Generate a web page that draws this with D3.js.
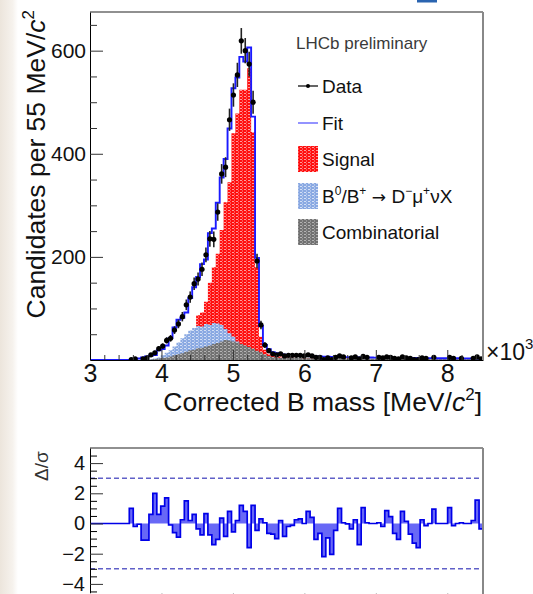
<!DOCTYPE html>
<html>
<head>
<meta charset="utf-8">
<script src="https://cdn.jsdelivr.net/npm/d3@7"></script>
<style>
  body { margin: 0; background: #fff; }
  svg { display: block; font-family: "Liberation Sans", Arial, Helvetica, sans-serif; }
</style>
</head>
<body>
<svg id="chart" width="533" height="594"></svg>
<script>
// binning: 100 bins of 55 MeV from 3000 to 8500 MeV
const binLow = 3000
const binWidth = 55
const nBins = 100

const dataCounts = [
  0, 0, 0, 0, 0, 0, 0, 0, 0, 0,
  1, 2, 0, 2, 4, 10, 14, 22, 27, 38,
  42, 58, 70, 84, 107, 122, 148, 157, 176, 204,
  235, 234, 287, 361, 374, 466, 514, 553, 619, 600,
  574, 500, 192, 68, 29, 18, 12, 10, 12, 8,
  9, 9, 9, 9, 8, 10, 8, 5, 5, 1,
  4, 1, 5, 8, 6, 0, 4, 6, 2, 7,
  5, 0, 0, 5, 4, 6, 5, 3, 2, 6,
  4, 3, 1, 1, 4, 3, 0, 5, 0, 0,
  0, 5, 3, 0, 3, 0, 0, 3, 6, 2
]

const fitValues = [
  0, 0, 0, 0, 0, 0, 0, 0, 0, 0,
  0.3, 2.3, 3, 5, 7, 8.5, 9.5, 19, 21, 28,
  43, 63, 78, 82, 92, 120, 141, 161, 186, 195,
  246, 255, 305, 354, 390, 449, 527, 548, 588, 579,
  606, 472, 198, 66, 29, 21, 15, 13, 11.5, 10.5,
  9.5, 9.2, 8.6, 8.2, 8, 7.6, 7.2, 7, 6.7, 6.5,
  6.2, 6.1, 5.9, 5.7, 5.6, 5.5, 5.3, 5.2, 5.1, 5,
  4.9, 4.8, 4.7, 4.6, 4.5, 4.4, 4.3, 4.2, 4.2, 4.1,
  4, 4, 3.9, 3.8, 3.8, 3.7, 3.6, 3.6, 3.5, 3.5,
  3.4, 3.4, 3.3, 3.3, 3.2, 3.2, 3.1, 3.1, 3, 3
]

const signalValues = [
  0, 0, 0, 0, 0, 0, 0, 0, 0, 0,
  0, 0, 0, 0, 0, 1, 2, 3, 5, 7,
  12, 17, 22, 27, 33, 42, 55, 87, 92, 113,
  150, 180, 206, 252, 306, 345, 440, 478, 524, 524,
  566, 442, 180, 45, 20, 12, 9, 8, 7, 6,
  5, 5, 4, 4, 4, 3, 3, 4, 4, 3,
  3, 3, 3, 2, 2, 3, 2, 2, 2, 2,
  2, 2, 2, 2, 2, 2, 2, 2, 2, 2,
  2, 2, 3, 3, 2, 2, 1.5, 1.5, 1.5, 1.5,
  1.5, 1.5, 1.2, 1.2, 1.2, 1.2, 1, 1, 1, 1
]

const b0Values = [
  0, 0, 0, 0, 0, 0, 0, 0, 0, 0,
  0, 0, 0, 0, 1, 2, 3, 5, 9, 14,
  19, 26, 34, 42, 50, 57, 62, 66, 65, 70,
  68, 72, 71, 68, 60, 52, 45, 36, 29, 20,
  13, 8, 5, 2, 1, 0.5, 0.4, 0.3, 0.2, 0.2,
  0.2, 0.2, 0.2, 0.2, 0.2, 0.2, 0.2, 0.2, 0.2, 0.2,
  0.2, 0.2, 0.2, 0.2, 0.2, 0.2, 0.2, 0.2, 0.2, 0.2,
  0.2, 0.2, 0.2, 0.2, 0.2, 0.2, 0.2, 0.2, 0.2, 0.2,
  0.2, 0.2, 0.2, 0.2, 0.2, 0.2, 0.2, 0.2, 0.2, 0.2,
  0.2, 0.2, 0.2, 0.2, 0.2, 0.2, 0.2, 0.2, 0.2, 0.2
]

const combValues = [
  0, 0, 0, 0, 0, 0, 0, 0, 0, 0,
  0, 0, 0, 0, 0, 1, 2, 3, 4, 5,
  7, 9, 11, 13, 16, 19, 20, 23, 24, 26,
  28, 31, 33, 36, 39, 38, 36, 34, 31, 28,
  25, 22, 18, 15, 11, 8, 6, 5, 4.5, 4.2,
  4, 4, 3.8, 3.8, 3.6, 3.6, 3.5, 3.2, 3.2, 3.3,
  3.2, 3.1, 3.1, 3.2, 3.2, 3, 3, 3, 2.9, 2.9,
  2.8, 2.8, 2.8, 2.7, 2.7, 2.6, 2.6, 2.5, 2.5, 2.5,
  2.4, 2.4, 2.3, 2.3, 2.3, 2.2, 2.2, 2.2, 2.1, 2.1,
  2.1, 2, 2, 2, 2, 1.9, 1.9, 1.9, 1.9, 1.8
]

const pullValues = [
  0, 0, 0, 0, 0, 0, 0, 0, 0, 0,
  1.0, -0.2, -0.05, -1.1, -1.1, 0.6, 2.0, 0.6, 1.15, 1.7,
  -0.1, -0.6, -0.9, 0.25, 1.5, 0.2, 0.6, -0.35, -0.75, 0.65,
  -0.75, -1.4, -1.05, 0.35, -0.85, 0.8, -0.55, 0.2, 1.2, 0.8,
  -1.6, 1.2, -0.45, 0.3, 0.05, -0.65, -0.7, -1.0, 0.2, -0.85,
  -0.2, -0.12, 0.25, 0.3, 0, 0.8, 0.4, -1.05, -0.65, -2.2,
  -0.95, -2.05, -0.45, 1.0, 0.05, -0.03, -0.35, 0.25, -1.4, 1.05,
  0.05, 0, 0, 0.05, -0.2, 0.85, 0.45, -0.65, -1.05, 0.8,
  0.15, -0.7, -1.3, -1.6, 0.25, -0.15, 0, 0.95, 0, 0,
  0, 1.05, -0.15, 0, 0.05, 0, 0, 0.2, 1.55, -0.35
]

const xTicks = [3, 4, 5, 6, 7, 8]
const yTicks = [200, 400, 600]
const pullTicks = [-4, -2, 0, 2, 4]
const pullBand = [-3, 3]

const svg = d3.select('#chart')
const frame = {left: 90, right: 483, top: 12, bottom: 360}
const pullFrame = {top: 448, bottom: 599}

const edges = d3.range(nBins + 1).map(i => binLow + i * binWidth)

const xScale = d3.scaleLinear().domain([3000, 8500]).range([frame.left, frame.right])
const yScale = d3.scaleLinear().domain([0, 675]).range([frame.bottom, frame.top])
const pullScale = d3.scaleLinear().domain([-5, 5]).range([pullFrame.bottom, pullFrame.top])

// background strip on the left edge of the screenshot
const defs = svg.append('defs')
const grad = defs.append('linearGradient').attr('id', 'edgeGrad')
grad.append('stop').attr('offset', '0%').attr('stop-color', '#ece5dc')
grad.append('stop').attr('offset', '70%').attr('stop-color', '#f6f2ed')
grad.append('stop').attr('offset', '100%').attr('stop-color', '#ffffff')
svg.append('rect').attr('x', 0).attr('y', 0).attr('width', 18).attr('height', 594).attr('fill', 'url(#edgeGrad)')
svg.append('rect').attr('x', 417).attr('y', 0).attr('width', 20).attr('height', 2.5).attr('fill', '#2a64b0')

const makePattern = (id, base, dot) => {
  const p = defs.append('pattern').attr('id', id)
    .attr('width', 4).attr('height', 3).attr('patternUnits', 'userSpaceOnUse')
  p.append('rect').attr('width', 4).attr('height', 3).attr('fill', base)
  p.append('rect').attr('x', 0).attr('y', 0).attr('width', 2).attr('height', 1).attr('fill', dot)
  p.append('rect').attr('x', 2).attr('y', 1.5).attr('width', 1).attr('height', 1).attr('fill', dot)
}
makePattern('patSignal', '#ff1010', '#ff9a9a')
makePattern('patB0', '#8aa9e2', '#d4e0f6')
makePattern('patComb', '#727272', '#b4b4b4')

defs.append('clipPath').attr('id', 'mainClip')
  .append('rect').attr('x', frame.left).attr('y', frame.top)
  .attr('width', frame.right - frame.left).attr('height', frame.bottom - frame.top)

const stepPoints = vals => vals.map((v, i) => [edges[i], v]).concat([[edges[nBins], vals[nBins - 1]]])

const stepArea = d3.area()
  .curve(d3.curveStepAfter)
  .x(d => xScale(d[0]))
  .y0(yScale(0))
  .y1(d => yScale(d[1]))

const stepLine = d3.line()
  .curve(d3.curveStepAfter)
  .x(d => xScale(d[0]))
  .y(d => yScale(d[1]))

const plot = svg.append('g').attr('clip-path', 'url(#mainClip)')

plot.append('path').datum(stepPoints(signalValues)).attr('fill', 'url(#patSignal)').attr('d', stepArea)
plot.append('path').datum(stepPoints(b0Values)).attr('fill', 'url(#patB0)').attr('d', stepArea)
plot.append('path').datum(stepPoints(combValues)).attr('fill', 'url(#patComb)').attr('d', stepArea)

plot.append('path')
  .datum(stepPoints(fitValues))
  .attr('fill', 'none')
  .attr('stroke', '#1a1aff')
  .attr('stroke-width', 1.9)
  .attr('d', stepLine)

const points = dataCounts
  .map((n, i) => ({x: binLow + (i + 0.5) * binWidth, n: n, err: Math.sqrt(n)}))
  .filter(d => d.n > 0)

const pts = plot.append('g')
pts.selectAll('line.ey').data(points).join('line')
  .attr('x1', d => xScale(d.x)).attr('x2', d => xScale(d.x))
  .attr('y1', d => yScale(d.n - d.err)).attr('y2', d => yScale(d.n + d.err))
  .attr('stroke', '#222').attr('stroke-width', 1.6)
pts.selectAll('line.ex').data(points).join('line')
  .attr('x1', d => xScale(d.x - binWidth / 2)).attr('x2', d => xScale(d.x + binWidth / 2))
  .attr('y1', d => yScale(d.n)).attr('y2', d => yScale(d.n))
  .attr('stroke', '#222').attr('stroke-width', 1.2)
pts.selectAll('circle').data(points).join('circle')
  .attr('cx', d => xScale(d.x)).attr('cy', d => yScale(d.n))
  .attr('r', 2.6).attr('fill', '#000')

// main axes (ROOT style ticks pointing inward)
const xAxis = d3.axisBottom(xScale)
  .tickValues(xTicks.map(t => t * 1000))
  .tickFormat(d => d / 1000)
  .tickSizeInner(-10).tickSizeOuter(0).tickPadding(4)
const xMinor = d3.axisBottom(xScale)
  .tickValues(d3.range(3200, 8500, 200).filter(v => v % 1000 !== 0))
  .tickFormat('').tickSizeInner(-5).tickSizeOuter(0)

const gx = svg.append('g').attr('transform', `translate(0,${frame.bottom})`).call(xAxis)
svg.append('g').attr('transform', `translate(0,${frame.bottom})`).call(xMinor)
  .select('.domain').remove()
gx.selectAll('text').attr('font-size', 25).attr('fill', '#111').attr('font-family', null)

const yAxis = d3.axisLeft(yScale)
  .tickValues(yTicks).tickSizeInner(-13).tickSizeOuter(0).tickPadding(4)
const yMinor = d3.axisLeft(yScale)
  .tickValues(d3.range(50, 675, 50).filter(v => v % 200 !== 0))
  .tickFormat('').tickSizeInner(-7).tickSizeOuter(0)
const gy = svg.append('g').attr('transform', `translate(${frame.left},0)`).call(yAxis)
svg.append('g').attr('transform', `translate(${frame.left},0)`).call(yMinor)
  .select('.domain').remove()
gy.selectAll('text').attr('font-size', 21).attr('fill', '#111').attr('font-family', null)

svg.selectAll('.tick line').attr('stroke', '#333')

// frame
svg.append('line').attr('x1', frame.left).attr('x2', frame.right).attr('y1', frame.top).attr('y2', frame.top)
  .attr('stroke', '#222').attr('stroke-width', 1.2)
svg.append('line').attr('x1', frame.right).attr('x2', frame.right).attr('y1', frame.top).attr('y2', frame.bottom)
  .attr('stroke', '#888').attr('stroke-width', 2)

// axis titles
const xTitle = svg.append('text')
  .attr('x', 482).attr('y', 411).attr('text-anchor', 'end')
  .attr('font-size', 26.5).attr('fill', '#111')
xTitle.append('tspan').text('Corrected B mass [MeV/')
xTitle.append('tspan').attr('font-style', 'italic').text('c')
xTitle.append('tspan').attr('font-size', 17).attr('dy', -11).text('2')
xTitle.append('tspan').attr('dy', 11).text(']')

const yTitle = svg.append('text')
  .attr('transform', 'translate(45,10) rotate(-90)')
  .attr('text-anchor', 'end')
  .attr('font-size', 26.5).attr('fill', '#111')
yTitle.append('tspan').text('Candidates per 55 MeV/')
yTitle.append('tspan').attr('font-style', 'italic').text('c')
yTitle.append('tspan').attr('font-size', 17).attr('dy', -11).text('2')

const expo = svg.append('text').attr('x', 486).attr('y', 360).attr('font-size', 23).attr('fill', '#111')
expo.append('tspan').text('\u00d710')
expo.append('tspan').attr('font-size', 15).attr('dy', -11).text('3')

// legend
svg.append('text').attr('x', 296).attr('y', 49).attr('font-size', 17).attr('fill', '#3a3a3a').text('LHCb preliminary')

const legendLabels = ['Data', 'Fit', 'Signal', 'B0', 'Combinatorial']
const legendY = [86, 123, 159, 196, 232]
const legendFill = {Signal: 'url(#patSignal)', B0: 'url(#patB0)', Combinatorial: 'url(#patComb)'}
const legend = svg.append('g')

legendLabels.forEach((lab, i) => {
  const cy = legendY[i]
  if (lab === 'Data') {
    legend.append('line').attr('x1', 298).attr('x2', 318).attr('y1', cy).attr('y2', cy).attr('stroke', '#111').attr('stroke-width', 1.3)
    legend.append('circle').attr('cx', 308).attr('cy', cy).attr('r', 2).attr('fill', '#000')
  } else if (lab === 'Fit') {
    legend.append('line').attr('x1', 298).attr('x2', 318).attr('y1', cy).attr('y2', cy).attr('stroke', '#6f6fff').attr('stroke-width', 1.5)
  } else {
    legend.append('rect').attr('x', 298).attr('y', cy - 13).attr('width', 20).attr('height', 26).attr('fill', legendFill[lab])
  }
  const t = legend.append('text').attr('x', 322).attr('y', cy + 7).attr('font-size', 19).attr('fill', '#111')
  if (lab === 'B0') {
    t.append('tspan').text('B')
    t.append('tspan').attr('font-size', 12).attr('dy', -8).text('0')
    t.append('tspan').attr('dy', 8).text('/B')
    t.append('tspan').attr('font-size', 12).attr('dy', -8).text('+')
    t.append('tspan').attr('dy', 8).attr('font-family', 'DejaVu Sans').attr('font-size', 17).text(' \u2192 ')
    t.append('tspan').text('D')
    t.append('tspan').attr('font-size', 12).attr('dy', -8).text('\u2212')
    t.append('tspan').attr('dy', 8).text('\u03bc')
    t.append('tspan').attr('font-size', 12).attr('dy', -8).text('+')
    t.append('tspan').attr('dy', 8).text('\u03bdX')
  } else {
    t.text(lab)
  }
})

// pull panel
defs.append('clipPath').attr('id', 'pullClip')
  .append('rect').attr('x', frame.left).attr('y', pullFrame.top)
  .attr('width', frame.right - frame.left).attr('height', pullFrame.bottom - pullFrame.top)

const pullArea = d3.area()
  .curve(d3.curveStepAfter)
  .x(d => xScale(d[0]))
  .y0(pullScale(0))
  .y1(d => pullScale(d[1]))
const pullLine = d3.line()
  .curve(d3.curveStepAfter)
  .x(d => xScale(d[0]))
  .y(d => pullScale(d[1]))

const pull = svg.append('g').attr('clip-path', 'url(#pullClip)')
pull.selectAll('line.band').data(pullBand).join('line')
  .attr('x1', frame.left).attr('x2', frame.right)
  .attr('y1', d => pullScale(d)).attr('y2', d => pullScale(d))
  .attr('stroke', '#6060c8').attr('stroke-width', 1.4).attr('stroke-dasharray', '5,3')
pull.append('path').datum(stepPoints(pullValues))
  .attr('fill', '#6868f6').attr('d', pullArea)
pull.append('path').datum(stepPoints(pullValues))
  .attr('fill', 'none').attr('stroke', '#0000e8').attr('stroke-width', 1.7).attr('d', pullLine)

const pAxis = d3.axisLeft(pullScale)
  .tickValues(pullTicks).tickSizeInner(-13).tickSizeOuter(0).tickPadding(5)
const pMinor = d3.axisLeft(pullScale)
  .tickValues(d3.range(-4.5, 5, 0.5).filter(v => v % 2 !== 0))
  .tickFormat('').tickSizeInner(-7).tickSizeOuter(0)
const gp = svg.append('g').attr('transform', `translate(${frame.left},0)`).call(pAxis)
svg.append('g').attr('transform', `translate(${frame.left},0)`).call(pMinor).select('.domain').remove()
gp.selectAll('text').attr('font-size', 20).attr('fill', '#111').attr('font-family', null)
gp.selectAll('.tick line').attr('stroke', '#333')

const pxAxis = d3.axisBottom(xScale)
  .tickValues(xTicks.map(t => t * 1000)).tickFormat('').tickSizeInner(-6).tickSizeOuter(0)
svg.append('g').attr('transform', `translate(0,${pullFrame.bottom})`).call(pxAxis)
  .selectAll('.tick line').attr('stroke', '#bbb')

svg.append('line').attr('x1', frame.left).attr('x2', frame.right).attr('y1', pullFrame.top).attr('y2', pullFrame.top)
  .attr('stroke', '#222').attr('stroke-width', 1.2)
svg.append('line').attr('x1', frame.right).attr('x2', frame.right).attr('y1', pullFrame.top).attr('y2', pullFrame.bottom)
  .attr('stroke', '#888').attr('stroke-width', 2)

svg.append('text')
  .attr('transform', `translate(48,${pullScale(3.8)}) rotate(-90)`)
  .attr('text-anchor', 'middle')
  .attr('font-size', 19).attr('fill', '#333')
  .text('\u0394/\u03c3')
</script>
</body>
</html>
